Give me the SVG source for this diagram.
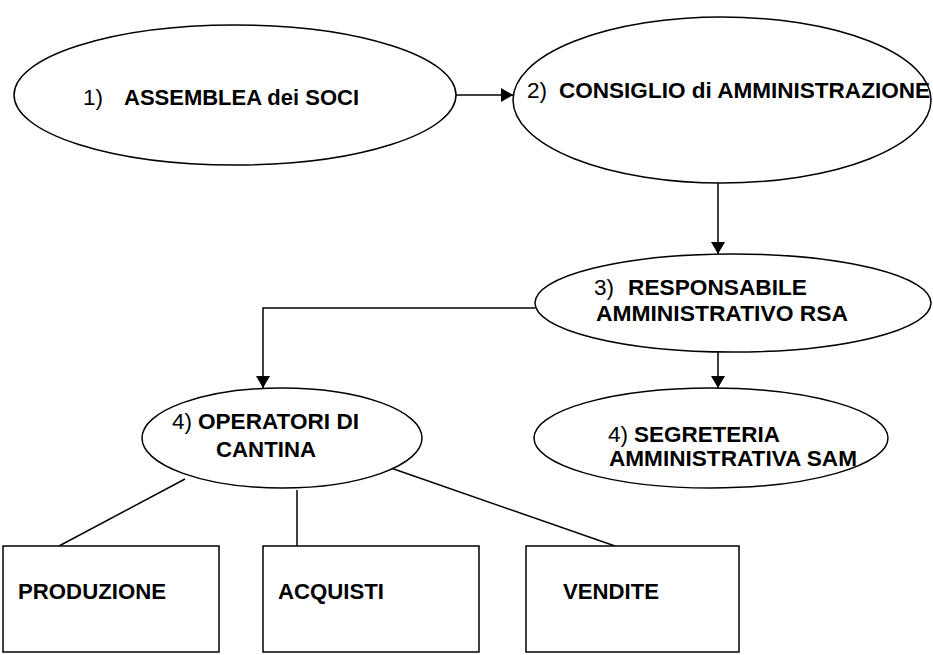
<svg xmlns="http://www.w3.org/2000/svg" width="933" height="655" viewBox="0 0 933 655">
<defs>
<style>
.shape{fill:#fff;stroke:#000;stroke-width:1.5}
.ln{fill:none;stroke:#000;stroke-width:1.5}
text{font-family:"Liberation Sans",Arial,sans-serif;font-size:22.5px;fill:#000}
.b{font-weight:bold}
</style>
<marker id="ah" viewBox="0 0 12 14" refX="12" refY="7" markerWidth="12" markerHeight="14" markerUnits="userSpaceOnUse" orient="auto">
<path d="M0,0 L12,7 L0,14 Z" fill="#000"/>
</marker>
</defs>
<rect width="933" height="655" fill="#fff"/>
<g id="connectors">
<line class="ln" x1="456" y1="95" x2="513" y2="95" marker-end="url(#ah)"/>
<line class="ln" x1="718" y1="183" x2="718" y2="254" marker-end="url(#ah)"/>
<polyline class="ln" points="535,308 263,308 263,388" marker-end="url(#ah)"/>
<line class="ln" x1="718" y1="352" x2="718" y2="388" marker-end="url(#ah)"/>
<line class="ln" x1="185" y1="479" x2="59" y2="546"/>
<line class="ln" x1="297" y1="490" x2="297" y2="546"/>
<line class="ln" x1="388" y1="467" x2="615" y2="546"/>
</g>
<g id="n1">
<ellipse class="shape" cx="235" cy="95" rx="221" ry="70"/>
<text y="105"><tspan x="83">1)</tspan><tspan class="b" x="124" textLength="235" lengthAdjust="spacingAndGlyphs">ASSEMBLEA dei SOCI</tspan></text>
</g>
<g id="n2">
<ellipse class="shape" cx="722" cy="100" rx="209" ry="83"/>
<text y="98"><tspan x="527">2)</tspan><tspan class="b" x="559" textLength="371" lengthAdjust="spacingAndGlyphs">CONSIGLIO di AMMINISTRAZIONE</tspan></text>
</g>
<g id="n3">
<ellipse class="shape" cx="733" cy="303" rx="198" ry="49"/>
<text y="295"><tspan x="594">3)</tspan><tspan class="b" x="628" textLength="179" lengthAdjust="spacingAndGlyphs">RESPONSABILE</tspan></text>
<text class="b" x="596" y="321" textLength="252" lengthAdjust="spacingAndGlyphs">AMMINISTRATIVO RSA</text>
</g>
<g id="n4a">
<ellipse class="shape" cx="282" cy="438" rx="140" ry="50"/>
<text y="429"><tspan x="172">4)</tspan><tspan class="b" x="198" textLength="161" lengthAdjust="spacingAndGlyphs">OPERATORI DI</tspan></text>
<text class="b" x="216" y="457" textLength="100" lengthAdjust="spacingAndGlyphs">CANTINA</text>
</g>
<g id="n4b">
<ellipse class="shape" cx="711" cy="438" rx="177" ry="50"/>
<text y="442"><tspan x="608">4)</tspan><tspan class="b" x="634" textLength="146" lengthAdjust="spacingAndGlyphs">SEGRETERIA</tspan></text>
<text class="b" x="609" y="466" textLength="248" lengthAdjust="spacingAndGlyphs">AMMINISTRATIVA SAM</text>
</g>
<g id="r1">
<rect class="shape" x="3" y="546" width="216" height="106"/>
<text class="b" x="18" y="599" textLength="148" lengthAdjust="spacingAndGlyphs">PRODUZIONE</text>
</g>
<g id="r2">
<rect class="shape" x="263" y="546" width="216" height="106"/>
<text class="b" x="278" y="599" textLength="106" lengthAdjust="spacingAndGlyphs">ACQUISTI</text>
</g>
<g id="r3">
<rect class="shape" x="526" y="546" width="213" height="106"/>
<text class="b" x="563" y="599" textLength="96" lengthAdjust="spacingAndGlyphs">VENDITE</text>
</g>
</svg>
